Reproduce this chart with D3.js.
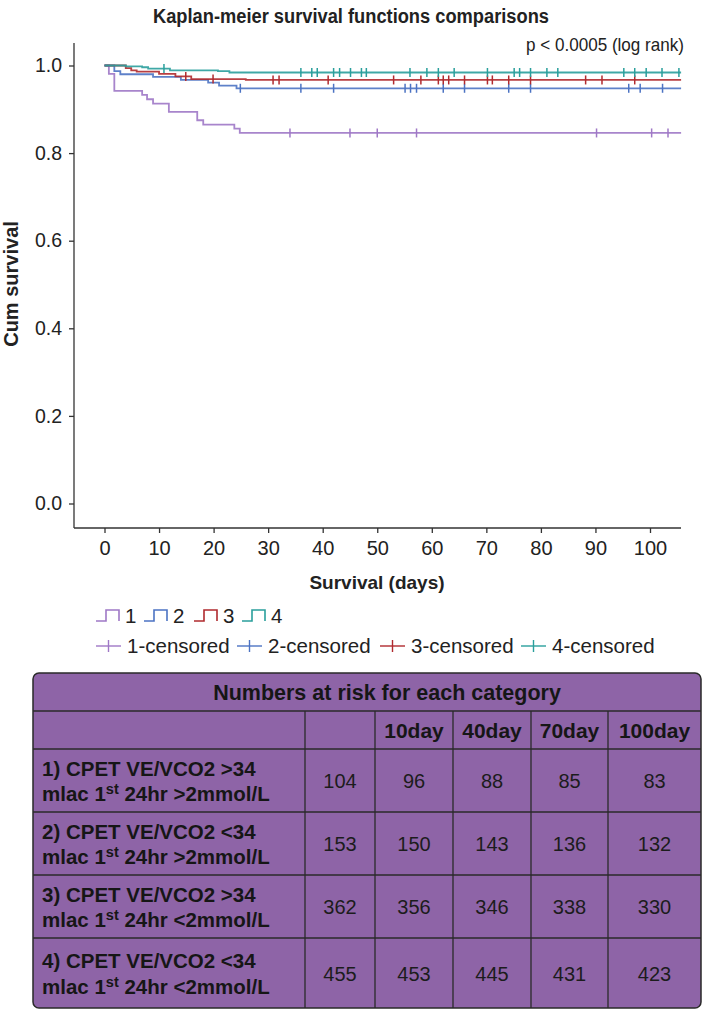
<!DOCTYPE html>
<html><head><meta charset="utf-8">
<script src="https://cdn.jsdelivr.net/npm/d3@7"></script>
<style>
html,body{margin:0;padding:0;background:#fff;}
svg{display:block;font-family:"Liberation Sans",Arial,sans-serif;}
</style></head>
<body>
<svg id="chart" width="703" height="1011"></svg>
<script>
// ---------- DATA ----------
const groupNames = ["1", "2", "3", "4"];
const groupColors = ["#9f78c6", "#4c73c3", "#b02a2e", "#2a9f9c"];
const lastDay = 105.7;
// Kaplan-Meier steps: [day, cumulative survival]
const steps1 = [[0,1],[0.8,0.981],[1.8,0.942],[6.9,0.933],[7.8,0.923],[8.9,0.913],[11.8,0.894],[17,0.875],[18.1,0.865],[23.8,0.856],[24.8,0.846]];
const steps2 = [[0,1],[1.8,0.987],[2.9,0.980],[8.9,0.974],[14,0.967],[19,0.961],[21,0.954],[24.2,0.948]];
const steps3 = [[0,1],[3.9,0.994],[4.9,0.989],[5.9,0.986],[10,0.981],[13,0.975],[15.9,0.969],[25.9,0.967]];
const steps4 = [[0,1],[3.9,0.998],[6.9,0.996],[8,0.993],[12,0.989],[20.8,0.987],[22.9,0.984]];
// censored days
const censored1 = [34,45,50,57.2,90.2,100.3,103.3];
const censored2 = [24.9,36,42,55.1,56.1,57.2,62.1,66,74.1,78.1,96.1,98.2,102.3];
const censored3 = [14.9,19.9,30.9,32,41,53,58,61.2,62.1,63.1,66,70.2,71.1,74.1,78.1,88.2,91.2,97.2];
const censored4 = [10.9,36,38,39,42,43.1,45.1,47.1,48,56,59.1,61.2,64.1,70.2,75.1,76.1,78.1,81.1,83.1,95.2,97.2,99.3,102.2,105.3];
const xTicks = [0,10,20,30,40,50,60,70,80,90,100];
const yTicks = [0,0.2,0.4,0.6,0.8,1.0];
const titleText = "Kaplan-meier survival functions comparisons";
const pText = "p < 0.0005 (log rank)";
// Numbers at risk table
const tableTitle = "Numbers at risk for each category";
const riskHeaders = ["", "", "10day", "40day", "70day", "100day"];
const riskLabel1 = ["1) CPET VE/VCO2 >34", "mlac 1", "st", " 24hr >2mmol/L"];
const riskLabel2 = ["2) CPET VE/VCO2 <34", "mlac 1", "st", " 24hr >2mmol/L"];
const riskLabel3 = ["3) CPET VE/VCO2 >34", "mlac 1", "st", " 24hr <2mmol/L"];
const riskLabel4 = ["4) CPET VE/VCO2 <34", "mlac 1", "st", " 24hr <2mmol/L"];
const riskCounts1 = [104, 96, 88, 85, 83];
const riskCounts2 = [153, 150, 143, 136, 132];
const riskCounts3 = [362, 356, 346, 338, 330];
const riskCounts4 = [455, 453, 445, 431, 423];

const allSteps = [steps1, steps2, steps3, steps4];
const allCens = [censored1, censored2, censored3, censored4];
const riskLabels = [riskLabel1, riskLabel2, riskLabel3, riskLabel4];
const riskCounts = [riskCounts1, riskCounts2, riskCounts3, riskCounts4];

// ---------- CHART ----------
const svg = d3.select("#chart");
const axisColor = "#333";
const textColor = "#222";

const x = d3.scaleLinear().domain([0, 100]).range([104.5, 650]);
const y = d3.scaleLinear().domain([0, 1]).range([503.5, 65.5]);
const xLeft = 74, xRight = 681, yTop = 43, yBottom = 528;

svg.append("text").attr("x", 351).attr("y", 23).attr("text-anchor", "middle")
  .attr("font-size", 19.5).attr("font-weight", "bold").attr("fill", textColor)
  .attr("textLength", 396).attr("lengthAdjust", "spacingAndGlyphs").text(titleText);
svg.append("text").attr("x", 684).attr("y", 51).attr("text-anchor", "end")
  .attr("font-size", 19).attr("fill", textColor)
  .attr("textLength", 158).attr("lengthAdjust", "spacingAndGlyphs").text(pText);

// axes lines
svg.append("line").attr("x1", xLeft).attr("x2", xLeft).attr("y1", yTop).attr("y2", yBottom)
  .attr("stroke", axisColor).attr("stroke-width", 1.3);
svg.append("line").attr("x1", xLeft).attr("x2", xRight).attr("y1", yBottom).attr("y2", yBottom)
  .attr("stroke", axisColor).attr("stroke-width", 1.3);

const yAxis = d3.axisLeft(y).tickValues(yTicks).tickFormat(d3.format(".1f")).tickSize(5).tickSizeOuter(0).tickPadding(7);
const gy = svg.append("g").attr("transform", `translate(${xLeft},0)`).call(yAxis);
gy.select(".domain").remove();
gy.selectAll("line").attr("stroke", axisColor).attr("stroke-width", 1.3);
gy.selectAll("text").attr("font-size", 19.5).attr("fill", textColor).attr("font-family", "Liberation Sans, Arial, sans-serif");

const xAxis = d3.axisBottom(x).tickValues(xTicks).tickSize(5).tickSizeOuter(0).tickPadding(8);
const gx = svg.append("g").attr("transform", `translate(0,${yBottom})`).call(xAxis);
gx.select(".domain").remove();
gx.selectAll("line").attr("stroke", axisColor).attr("stroke-width", 1.3);
gx.selectAll("text").attr("font-size", 20).attr("fill", textColor).attr("font-family", "Liberation Sans, Arial, sans-serif");

svg.append("text").attr("x", 377).attr("y", 589).attr("text-anchor", "middle")
  .attr("font-size", 19).attr("font-weight", "bold").attr("fill", textColor).text("Survival (days)");
svg.append("text").attr("transform", "translate(18,284) rotate(-90)").attr("text-anchor", "middle")
  .attr("font-size", 20).attr("font-weight", "bold").attr("fill", textColor).text("Cum survival");

// curves
const line = d3.line().x(d => x(d[0])).y(d => y(d[1])).curve(d3.curveStepAfter);
const survAt = (steps, t) => { let s = 1; for (const st of steps) if (st[0] <= t) s = st[1]; return s; };

allSteps.forEach((steps, i) => {
  const pts = steps.concat([[lastDay, steps[steps.length - 1][1]]]);
  svg.append("path").datum(pts).attr("d", line).attr("fill", "none")
    .attr("stroke", groupColors[i]).attr("stroke-width", 1.8).attr("stroke-opacity", 0.9);
});
allCens.forEach((cens, i) => {
  svg.append("g").selectAll("line").data(cens).join("line")
    .attr("x1", d => x(d)).attr("x2", d => x(d))
    .attr("y1", d => y(survAt(allSteps[i], d)) - 4.5)
    .attr("y2", d => y(survAt(allSteps[i], d)) + 4.5)
    .attr("stroke", groupColors[i]).attr("stroke-width", 1.5);
});

// legend row 1
const leg1X = [96, 144, 194, 242];
groupNames.forEach((g, i) => {
  const lx = leg1X[i], ly = 621;
  svg.append("path").attr("d", `M${lx},${ly} H${lx+10} V${ly-11} H${lx+23} V${ly}`)
    .attr("fill", "none").attr("stroke", groupColors[i]).attr("stroke-width", 1.6);
  svg.append("text").attr("x", lx + 29).attr("y", ly + 2).attr("font-size", 20.5)
    .attr("fill", textColor).text(g);
});
// legend row 2
const leg2X = [96, 237, 380, 521];
groupNames.forEach((g, i) => {
  const lx = leg2X[i], ly = 646;
  svg.append("line").attr("x1", lx).attr("x2", lx + 25).attr("y1", ly).attr("y2", ly)
    .attr("stroke", groupColors[i]).attr("stroke-width", 1.4);
  svg.append("line").attr("x1", lx + 12.5).attr("x2", lx + 12.5).attr("y1", ly - 6).attr("y2", ly + 6)
    .attr("stroke", groupColors[i]).attr("stroke-width", 1.4);
  svg.append("text").attr("x", lx + 31).attr("y", ly + 7).attr("font-size", 20.5)
    .attr("fill", textColor).text(g + "-censored");
});

// ---------- TABLE ----------
const colX = [33, 305, 375, 453, 531, 608, 701];
const rowY = [673, 711, 749, 812, 875, 938, 1008];
const tbl = svg.append("g");
const tblFill = "#8e64a7", tblStroke = "#2a2a2a";
tbl.append("rect").attr("x", colX[0]).attr("y", rowY[0]).attr("width", colX[6] - colX[0])
  .attr("height", rowY[6] - rowY[0]).attr("rx", 6).attr("fill", tblFill)
  .attr("stroke", tblStroke).attr("stroke-width", 1.5);
tbl.selectAll("line.h").data(rowY.slice(1, 6)).join("line").attr("class", "h")
  .attr("x1", colX[0]).attr("x2", colX[6]).attr("y1", d => d).attr("y2", d => d)
  .attr("stroke", tblStroke).attr("stroke-width", 1.3);
tbl.selectAll("line.v").data(colX.slice(1, 6)).join("line").attr("class", "v")
  .attr("x1", d => d).attr("x2", d => d).attr("y1", rowY[1]).attr("y2", rowY[6])
  .attr("stroke", tblStroke).attr("stroke-width", 1.3);

tbl.append("text").attr("x", (colX[0] + colX[6]) / 2 + 20).attr("y", (rowY[0] + rowY[1]) / 2 + 7.5)
  .attr("text-anchor", "middle").attr("font-size", 21.5).attr("font-weight", "bold")
  .attr("fill", "#161616").text(tableTitle);
riskHeaders.forEach((h, c) => {
  if (!h) return;
  tbl.append("text").attr("x", (colX[c] + colX[c + 1]) / 2).attr("y", (rowY[1] + rowY[2]) / 2 + 7.5)
    .attr("text-anchor", "middle").attr("font-size", 21).attr("font-weight", "bold")
    .attr("fill", "#161616").text(h);
});
riskLabels.forEach((lab, r) => {
  const top = rowY[r + 2], bot = rowY[r + 3], mid = (top + bot) / 2;
  tbl.append("text").attr("x", 42).attr("y", mid - 5).attr("font-size", 20.5).attr("font-weight", "bold")
    .attr("fill", "#161616").text(lab[0]);
  const t2 = tbl.append("text").attr("x", 42).attr("y", mid + 20.5).attr("font-size", 20.5)
    .attr("font-weight", "bold").attr("fill", "#161616");
  t2.append("tspan").text(lab[1]);
  t2.append("tspan").attr("font-size", 14.5).attr("dy", -7).text(lab[2]);
  t2.append("tspan").attr("dy", 7).text(lab[3]);
  riskCounts[r].forEach((v, c) => {
    tbl.append("text").attr("x", (colX[c + 1] + colX[c + 2]) / 2).attr("y", mid + 7.5)
      .attr("text-anchor", "middle").attr("font-size", 20).attr("fill", "#1c1c1c").text(v);
  });
});
</script>
</body></html>
